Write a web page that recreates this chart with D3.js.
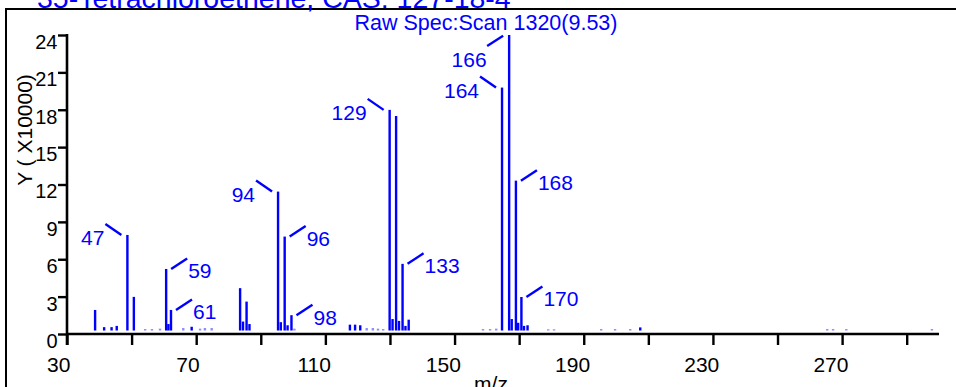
<!DOCTYPE html>
<html><head><meta charset="utf-8">
<script src="https://cdn.jsdelivr.net/npm/d3@7"></script>
<style>html,body{margin:0;padding:0;background:#fff;overflow:hidden}svg{display:block}</style>
</head><body>
<script>
// ---- data ----
const titleText = "35-Tetrachloroethene, CAS: 127-18-4";
const scanText = "Raw Spec:Scan 1320(9.53)";
const xLabel = "m/z";
const yLabel = "Y ( X10000)";
const xTicks = [30,50,70,90,110,130,150,170,190,210,230,250,270,290];
const xTickLabels = ["30","","70","","110","","150","","190","","230","","270",""];
const yTicks = [0,3,6,9,12,15,18,21,24];
// peak positions (m/z as read against the axis) and intensities (x10000, read against the y axis)
const peakMz = [38.7,41.5,43.8,45.4,48.7,50.7,54.2,56.3,58.8,60.7,61.4,62.2,66.0,68.6,71.2,72.7,74.8,
  83.6,84.5,85.6,86.5,95.35,96.2,97.4,98.3,99.5,100.4,117.6,119.2,120.8,122.8,124.7,126.3,127.9,
  129.9,130.8,131.9,132.8,133.9,134.8,135.8,158.8,161.0,162.9,164.7,166.9,167.7,169.0,169.7,170.7,171.5,172.6,
  179.0,180.8,195.4,199.7,204.4,207.5,265.4,267.2,271.3,297.8];
const peakInt = [1.93,0.55,0.55,0.65,7.95,2.98,0.4,0.4,0.43,5.22,0.8,1.93,0.48,0.58,0.43,0.48,0.48,
  3.68,1.0,2.6,0.8,11.43,0.95,7.82,0.7,1.51,0.43,0.75,0.75,0.7,0.48,0.48,0.43,0.4,
  17.99,1.2,17.5,1.05,5.63,0.65,1.15,0.4,0.4,0.43,19.78,24.0,1.2,12.31,0.9,2.97,0.65,0.7,
  0.38,0.38,0.4,0.4,0.4,0.53,0.4,0.4,0.4,0.4];
// annotations
const labelText = ["47","59","61","94","96","98","129","133","164","166","168","170"];
const labelAt   = [48.7,60.7,62.2,95.35,97.4,99.5,129.9,133.9,164.7,166.9,169.0,170.7];
const labelDir  = ["ul","ur","ur","ul","ur","ur","ul","ur","ul","dl","ur","ur"];

// ---- drawing ----
const W = 956, H = 387;
const BLUE = "#0000ff";
const FONT = "'Liberation Sans', Arial, sans-serif";
const svg = d3.select("body").append("svg").attr("width", W).attr("height", H);

const x = d3.scaleLinear().domain([30, 300]).range([67, 939]);
const y = d3.scaleLinear().domain([0, 24]).range([334, 35]);
const barFloor = 0.28; // bars stand slightly above the axis line

// frame
svg.append("rect").attr("x", 6).attr("y", 9).attr("width", 1000).attr("height", 600)
  .attr("fill", "none").attr("stroke", "#000").attr("stroke-width", 2);

// title (mostly cut off above)
svg.append("text").attr("x", 37).attr("y", 7.5).attr("fill", BLUE)
  .style("font-family", FONT).style("font-size", "28.5px").text(titleText);
svg.append("text").attr("x", 486).attr("y", 30).attr("text-anchor", "middle").attr("fill", BLUE)
  .style("font-family", FONT).style("font-size", "21.5px").text(scanText);

// bars
svg.append("g").selectAll("rect").data(peakMz.map((m, i) => ({m, v: peakInt[i]})))
  .join("rect")
  .attr("x", d => x(d.m) - 1.2).attr("width", 2.4)
  .attr("y", d => y(d.v))
  .attr("height", d => Math.max(0.8, y(barFloor) - y(d.v)))
  .attr("fill", BLUE)
  .attr("fill-opacity", d => (y(barFloor) - y(d.v)) < 2.5 ? 0.45 : 1);

// x axis
const xa = svg.append("g").attr("transform", `translate(0,${y(0)})`)
  .call(d3.axisBottom(x).tickValues(xTicks).tickSize(11).tickSizeOuter(0).tickPadding(12)
    .tickFormat((d, i) => xTickLabels[i]));
xa.select(".domain").attr("stroke", "#000").attr("stroke-width", 2.6)
  .attr("d", `M${x(30)},0H${x(300)}`);
xa.selectAll(".tick line").attr("stroke", "#000").attr("stroke-width", 2.4);
xa.selectAll(".tick text").attr("fill", "#000").style("font-family", FONT).style("font-size", "21px")
  .attr("dx", d => -(3 + 2.9 * String(d).length)).attr("y", 23).attr("dy", "0.71em");

// y axis
const ya = svg.append("g").attr("transform", `translate(${x(30)},0)`)
  .call(d3.axisLeft(y).tickValues(yTicks).tickSize(9).tickSizeOuter(0).tickPadding(0).tickFormat(d3.format("d")));
ya.select(".domain").attr("stroke", "#000").attr("stroke-width", 2.6)
  .attr("d", `M0,${y(24) - 1}V${y(0) + 11}`);
ya.selectAll(".tick line").attr("stroke", "#000").attr("stroke-width", 2.4);
ya.selectAll(".tick text").attr("fill", "#000").style("font-family", FONT).style("font-size", "20px")
  .attr("x", -9.5).attr("dy", "0.72em").attr("y", -1);

// axis titles
svg.append("text").attr("transform", `translate(32,130) rotate(-90)`).attr("text-anchor", "middle")
  .attr("fill", "#000").style("font-family", FONT).style("font-size", "21px").text(yLabel);
svg.append("text").attr("x", 491).attr("y", 391).attr("text-anchor", "middle")
  .attr("fill", "#000").style("font-family", FONT).style("font-size", "21px").text(xLabel);

// peak annotations
const intAt = m => peakInt[peakMz.indexOf(m)];
const geo = {
  ul: {l: [-22, -11, -6, 0], tx: -23, ty: 10, anchor: "end"},
  ur: {l: [5, 0, 21, -10.5], tx: 22, ty: 9.5, anchor: "start"},
  dl: {l: [-6, 0.7, -22, 11], tx: -22.5, ty: 32, anchor: "end"}
};
const ann = svg.append("g");
labelText.forEach((t, i) => {
  const bx = x(labelAt[i]), top = y(intAt(labelAt[i]));
  const g = geo[labelDir[i]];
  ann.append("line").attr("x1", bx + g.l[0]).attr("y1", top + g.l[1])
    .attr("x2", bx + g.l[2]).attr("y2", top + g.l[3])
    .attr("stroke", BLUE).attr("stroke-width", 2.4);
  ann.append("text").attr("x", bx + g.tx).attr("y", top + g.ty).attr("text-anchor", g.anchor)
    .attr("fill", BLUE).style("font-family", FONT).style("font-size", "21px").text(t);
});
</script>
</body></html>
